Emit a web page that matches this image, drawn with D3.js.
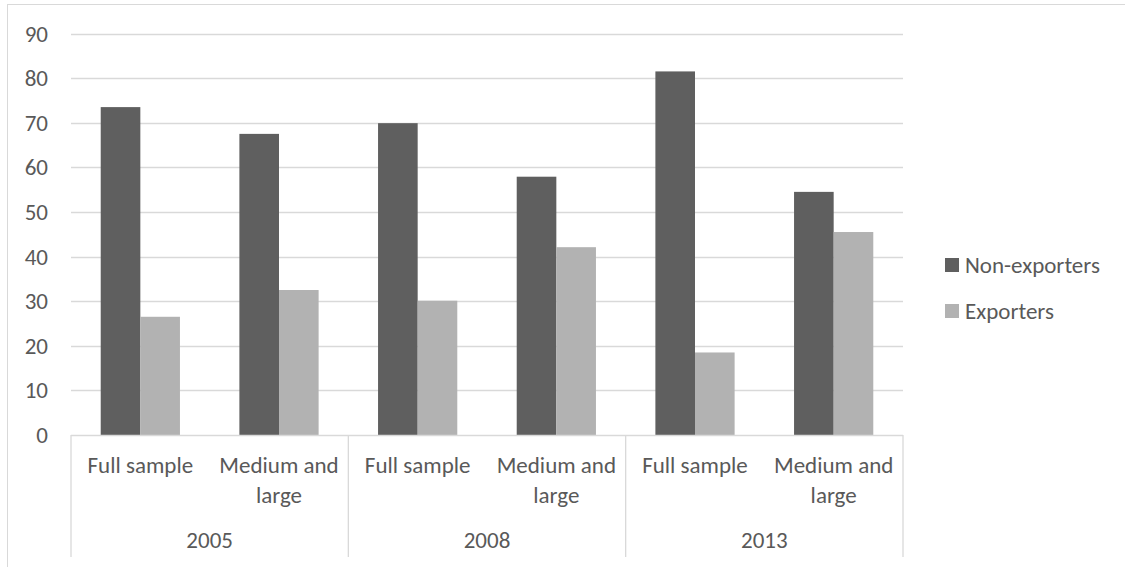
<!DOCTYPE html>
<html><head><meta charset="utf-8">
<script src="https://cdn.jsdelivr.net/npm/d3@7/dist/d3.min.js"></script>
<style>body{margin:0;background:#fff}svg{display:block}text{font-family:Carlito,Calibri,Lato,"Open Sans",sans-serif;fill:#595959}</style>
</head><body><svg id="c" width="1125" height="567"></svg>
<script>
const years = ["2005", "2008", "2013"];
const subcats = ["Full sample", "Medium and large"];
const seriesNames = ["Non-exporters", "Exporters"];
const nonExporters = [73.5, 67.5, 69.9, 57.9, 81.5, 54.5];
const exporters = [26.5, 32.5, 30.1, 42.1, 18.5, 45.5];
const yTicks = [0, 10, 20, 30, 40, 50, 60, 70, 80, 90];
const colors = ["#5f5f5f", "#b2b2b2"];

(function () {
const FS = "23px";
const svg = d3.select("#c");
svg.append("rect").attr("x", 7.5).attr("y", 4.5).attr("width", 1130).attr("height", 600)
  .attr("fill", "none").attr("stroke", "#d9d9d9").attr("stroke-width", 1);

const pL = 71, pR = 903, pT = 33.5, pB = 435;
const cats = [];
years.forEach(y => subcats.forEach(s => cats.push(y + "|" + s)));
const x = d3.scaleBand().domain(cats).range([pL, pR]).paddingInner(0.4286).paddingOuter(0.2143);
const xi = d3.scaleBand().domain([0, 1]).range([0, x.bandwidth()]);
const yS = d3.scaleLinear().domain([0, 90]).range([pB, pT]);

svg.append("g").selectAll("line").data(yTicks.filter(t => t > 0)).join("line")
  .attr("x1", pL).attr("x2", pR)
  .attr("y1", d => Math.round(yS(d)) + 0.5).attr("y2", d => Math.round(yS(d)) + 0.5)
  .attr("stroke", "#d9d9d9").attr("stroke-width", 1.3);

svg.append("g").selectAll("text").data(yTicks).join("text")
  .attr("x", 48).attr("y", d => yS(d)).attr("dy", "0.35em").attr("text-anchor", "end")
  .style("font-size", FS).text(d => d);

const vals = [nonExporters, exporters];
vals.forEach((arr, si) => {
  svg.append("g").selectAll("rect").data(arr).join("rect")
    .attr("x", (d, i) => x(cats[i]) + xi(si))
    .attr("width", xi.bandwidth())
    .attr("y", d => yS(d)).attr("height", d => yS(0) - yS(d))
    .attr("fill", colors[si]);
});

svg.append("line").attr("x1", pL).attr("x2", pR).attr("y1", pB + 0.5).attr("y2", pB + 0.5)
  .attr("stroke", "#d9d9d9").attr("stroke-width", 1.3);
const groupW = (pR - pL) / years.length;
d3.range(years.length + 1).forEach(i => {
  const xx = pL + i * groupW;
  svg.append("line").attr("x1", xx).attr("x2", xx).attr("y1", pB).attr("y2", 557)
    .attr("stroke", "#d9d9d9").attr("stroke-width", 1.3);
});

cats.forEach((c, i) => {
  const label = c.split("|")[1];
  const cx = x(c) + x.bandwidth() / 2;
  const t = svg.append("text").attr("x", cx).attr("y", 473).attr("text-anchor", "middle").style("font-size", FS);
  if (label === "Medium and large") {
    t.append("tspan").attr("x", cx).attr("y", 473).text("Medium and");
    t.append("tspan").attr("x", cx).attr("y", 503).text("large");
  } else t.text(label);
});
years.forEach((y, i) => {
  svg.append("text").attr("x", pL + groupW * (i + 0.5)).attr("y", 548).attr("text-anchor", "middle")
    .style("font-size", FS).text(y);
});

seriesNames.forEach((n, i) => {
  const ly = 265 + i * 46;
  svg.append("rect").attr("x", 945).attr("y", ly - 7).attr("width", 14).attr("height", 14).attr("fill", colors[i]);
  svg.append("text").attr("x", 965).attr("y", ly).attr("dy", "0.35em").style("font-size", FS).text(n);
});
})();
</script></body></html>
